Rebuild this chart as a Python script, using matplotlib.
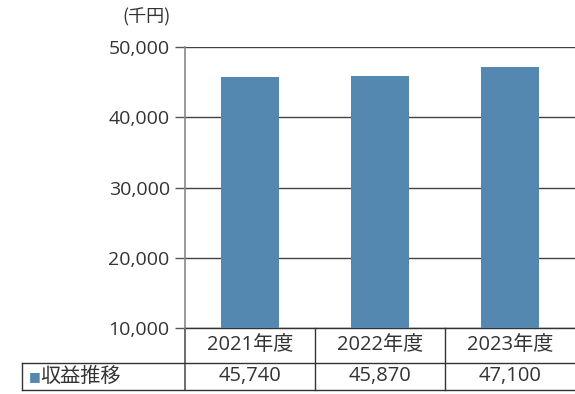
import matplotlib
matplotlib.use("Agg")
import matplotlib.pyplot as plt
from matplotlib.ticker import FuncFormatter
import matplotlib.transforms as mtransforms

plt.rcParams['font.family'] = ['Open Sans', 'Noto Sans CJK JP', 'DejaVu Sans']

categories = ["2021年度", "2022年度", "2023年度"]
values = [45740, 45870, 47100]
series_name = "収益推移"
unit_label = "(千円)"
yticks = [10000, 20000, 30000, 40000, 50000]

bar_color = "#5588b1"
text_color = "#333333"
fs_y = 14
fs_t = 14.5

fig = plt.figure(figsize=(5.75, 3.94), dpi=100)
W, H = 575, 394
ax_left, ax_right, ax_top, ax_bottom = 185, 575, 47, 328
ax = fig.add_axes([ax_left / W, 1 - ax_bottom / H, (ax_right - ax_left) / W, (ax_bottom - ax_top) / H])

x = list(range(len(categories)))
ax.bar(x, values, width=0.44, color=bar_color, zorder=3)
ax.set_xlim(-0.5, len(categories) - 0.5)
ax.set_ylim(10000, 50000)
ax.set_yticks(yticks)
ax.yaxis.set_major_formatter(FuncFormatter(lambda v, p: f"{int(v):,}"))
ax.tick_params(axis='y', length=7, width=1, color="#555555", labelsize=fs_y, labelcolor=text_color, pad=4)
ax.set_xticks([])
ax.grid(axis='y', color="#444444", linewidth=1, zorder=1)
for s in ['top', 'right', 'bottom']:
    ax.spines[s].set_visible(False)
ax.spines['left'].set_color("#888888")
ax.spines['left'].set_linewidth(1.2)

fig.text(146 / W, 1 - 17 / H, unit_label, ha='center', va='center', fontsize=13, color=text_color,
         family=['Noto Sans CJK JP', 'DejaVu Sans'])

trans = mtransforms.blended_transform_factory(ax.transData, ax.transAxes)
row1 = 0.0
row2 = -(363 - 328) / (ax_bottom - ax_top)
row3 = -(390 - 328) / (ax_bottom - ax_top)
left_edge = -0.5 - (185 - 22) / 130
xr = len(categories) - 0.5
lc = "#333333"

# left spine extension
ax.plot([-0.5, -0.5], [row1, row3], transform=trans, color="#555555", lw=1.2, clip_on=False)
# horizontal table lines
ax.plot([-0.5, xr], [row1, row1], transform=trans, color=lc, lw=1, clip_on=False)
ax.plot([left_edge, xr], [row2, row2], transform=trans, color=lc, lw=1, clip_on=False)
ax.plot([left_edge, xr], [row3, row3], transform=trans, color=lc, lw=1, clip_on=False)
ax.plot([left_edge, left_edge], [row2, row3], transform=trans, color=lc, lw=1, clip_on=False)
for i in range(1, len(categories)):
    ax.plot([i - 0.5, i - 0.5], [row1, row3], transform=trans, color=lc, lw=1, clip_on=False)

for i, (c, v) in enumerate(zip(categories, values)):
    ax.text(i, (row1 + row2) / 2, c, transform=trans, ha='center', va='center', fontsize=fs_t, color=text_color)
    ax.text(i, (row2 + row3) / 2, f"{v:,}", transform=trans, ha='center', va='center', fontsize=fs_t, color=text_color)

ax.text(left_edge + 0.055, (row2 + row3) / 2, "■", transform=trans, ha='left', va='center', fontsize=9, color=bar_color,
        family=['DejaVu Sans'])
ax.text(left_edge + 0.14, (row2 + row3) / 2, series_name, transform=trans, ha='left', va='center', fontsize=fs_t,
        color=text_color, family=['Noto Sans CJK JP', 'DejaVu Sans'])

fig.savefig("out.png", dpi=100)
